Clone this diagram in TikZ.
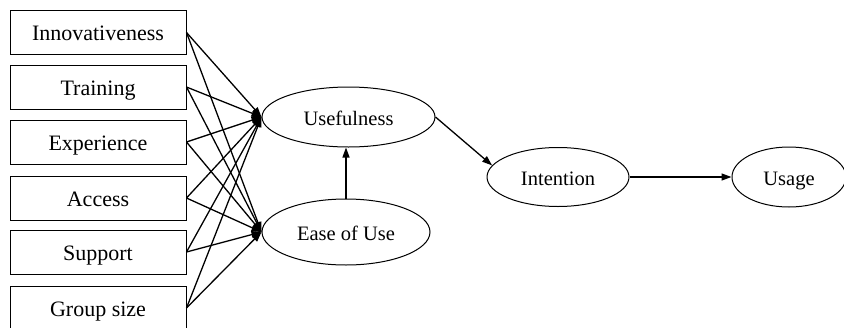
\documentclass[tikz,border=0pt]{standalone}
\usepackage{fontspec}
\setmainfont{Liberation Serif}
\usetikzlibrary{arrows.meta,shapes.geometric}
\begin{document}
\begin{tikzpicture}[x=1pt,y=-1pt,
  factor/.style={draw,line width=1pt,minimum width=176pt,minimum height=44pt,inner sep=0pt,text height=16pt,text depth=0pt,font=\fontsize{22}{24}\selectfont},
  construct/.style={draw,ellipse,line width=1pt,inner sep=0pt,text height=16pt,text depth=0pt,font=\fontsize{20.5}{22}\selectfont},
  link/.style={line width=1.3pt,-{Triangle[length=10pt,width=7pt]}}]
\useasboundingbox (0,0) rectangle (844,327);
\node[factor] (inn) at (98,32.5) {Innovativeness};
\node[factor] (tra) at (98,87) {Training};
\node[factor] (exp) at (98,142) {Experience};
\node[factor] (acc) at (98,198) {Access};
\node[factor] (sup) at (98,252) {Support};
\node[factor] (grp) at (98,308) {Group size};
\node[construct,minimum width=173pt,minimum height=60pt] (use) at (348.5,117) {Usefulness};
\node[construct,minimum width=168pt,minimum height=66pt] (eou) at (346,232) {Ease of Use};
\node[construct,minimum width=142pt,minimum height=59pt] (int) at (558,177) {Intention};
\node[construct,minimum width=114pt,minimum height=60pt] (usg) at (789,177) {Usage};
\foreach \s in {inn,tra,exp,acc,sup,grp}{
  \draw[link] (\s.east) -- (use.west);
  \draw[link] (\s.east) -- (eou.west);
}
\draw[link] (eou.north) -- (eou.north |- use.south);
\draw[link] (use.east) -- (int.170);
\draw[link] (int.east) -- (usg.west);
\end{tikzpicture}
\end{document}
